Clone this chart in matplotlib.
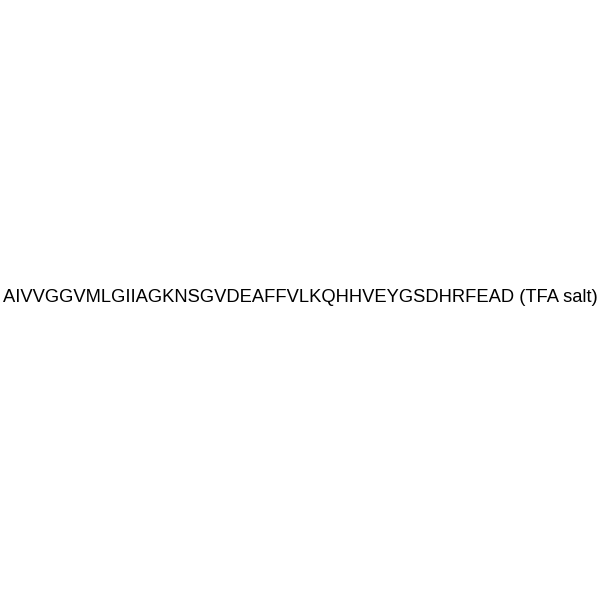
import matplotlib
matplotlib.use("Agg")
import matplotlib.pyplot as plt

label = "AIVVGGVMLGIIAGKNSGVDEAFFVLKQHHVEYGSDHRFEAD (TFA salt)"

fig = plt.figure(figsize=(6, 6), dpi=100)
fig.patch.set_facecolor("white")
fig.text(0.5, 1 - 297 / 600, label, ha="center", va="center",
         fontsize=13.2, family="Liberation Sans", color="black")
fig.savefig("out.png", dpi=100, facecolor="white")
